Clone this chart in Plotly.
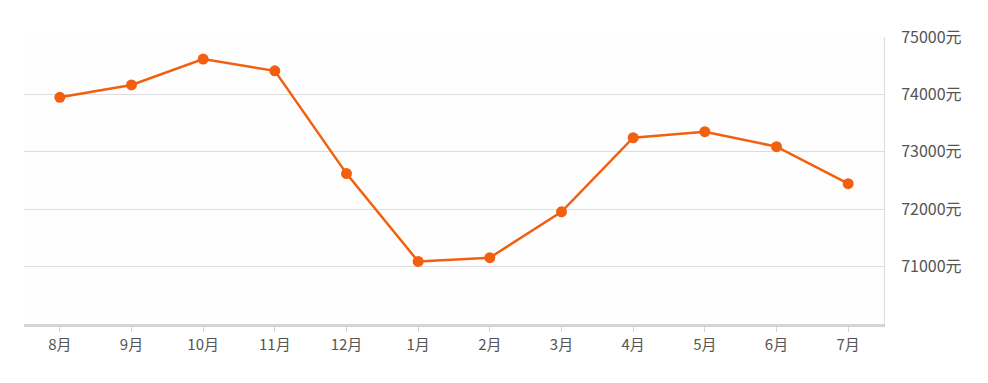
import plotly.graph_objects as go

months = ["8月", "9月", "10月", "11月", "12月", "1月", "2月", "3月", "4月", "5月", "6月", "7月"]
prices = [73950, 74165, 74615, 74410, 72620, 71090, 71155, 71955, 73245, 73350, 73090, 72445]
y_ticks = [71000, 72000, 73000, 74000, 75000]
y_tick_labels = [f"{v}元" for v in y_ticks]

fig = go.Figure()
fig.add_trace(go.Scatter(
    x=months, y=prices, mode="lines+markers",
    line=dict(color="#f2600f", width=2.5),
    marker=dict(color="#f2600f", size=11),
    hoverinfo="x+y",
))

font = "Noto Sans CJK SC, Microsoft YaHei, sans-serif"
fig.update_layout(
    width=988, height=383,
    margin=dict(l=24, r=104, t=37, b=59),
    paper_bgcolor="white", plot_bgcolor="#fefefe",
    showlegend=False,
    font=dict(family=font, color="#555555"),
    xaxis=dict(
        type="category",
        range=[-0.5, len(months) - 0.5],
        showgrid=False,
        showline=True, linecolor="#d4d4d4", linewidth=2.5,
        ticks="outside", ticklen=5, tickcolor="#d4d4d4",
        tickfont=dict(size=15, color="#555555"),
        zeroline=False,
    ),
    yaxis=dict(
        side="right",
        range=[70000, 75000],
        tickvals=y_ticks, ticktext=y_tick_labels,
        showgrid=True, gridcolor="#dcdcdc", gridwidth=1,
        showline=True, linecolor="#dcdcdc", linewidth=1,
        ticks="", ticklabelstandoff=13,
        tickfont=dict(size=16, color="#555555"),
        zeroline=False,
    ),
)

fig.write_html("out.html")
